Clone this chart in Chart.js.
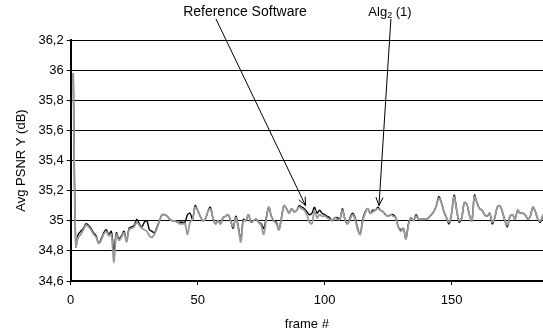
<!DOCTYPE html>
<html>
<head>
<meta charset="utf-8">
<script src="https://cdn.jsdelivr.net/npm/chart.js@4"></script>
<style>
  html, body { margin: 0; padding: 0; background: #fff; }
  #wrap { width: 543px; height: 332px; }
</style>
</head>
<body>
<div id="wrap"><canvas id="myChart" width="543" height="332"></canvas></div>
<script>
// values (frames 1..186)
const referenceSoftware = [
  35.98, 34.83, 34.91, 34.93, 34.95, 34.98, 34.97, 34.95, 34.92, 34.90,
  34.85, 34.88, 34.92, 34.94, 34.91, 34.93, 34.80, 34.92, 34.88, 34.90,
  34.93, 34.87, 34.95, 34.96, 34.97, 35.01, 34.98, 34.96, 34.99, 35.00,
  34.94, 34.93, 34.92, 34.96, 35.00, 35.04, 35.04, 35.03, 35.01, 35.00,
  35.00, 34.99, 34.99, 34.99, 34.99, 35.04, 35.05, 35.01, 35.10, 35.07,
  35.03, 35.00, 35.01, 35.06, 35.09, 35.02, 34.98, 35.00, 34.98, 35.02,
  35.03, 35.04, 35.00, 34.95, 35.03, 34.96, 34.88, 35.01, 35.00, 35.04,
  34.99, 35.00, 35.01, 34.99, 34.98, 34.95, 35.02, 35.09, 35.03, 35.00,
  34.99, 34.94, 35.02, 35.10, 35.08, 35.05, 35.08, 35.06, 35.07, 35.10,
  35.09, 35.08, 35.06, 35.04, 35.05, 35.09, 35.05, 35.07, 35.05, 35.04,
  35.03, 35.02, 35.00, 35.02, 35.02, 35.01, 35.08, 35.01, 34.98, 35.02,
  35.05, 35.02, 34.95, 34.91, 35.01, 35.06, 35.08, 35.05, 35.07, 35.07,
  35.09, 35.07, 35.06, 35.04, 35.03, 35.04, 35.04, 35.02, 34.96, 34.94,
  34.95, 34.88, 34.98, 35.02, 35.00, 35.04, 35.01, 35.01, 35.01, 35.01,
  35.02, 35.04, 35.06, 35.10, 35.16, 35.12, 35.06, 35.02, 34.98, 35.05,
  35.17, 35.07, 34.99, 35.02, 35.12, 35.11, 35.04, 35.00, 35.17, 35.12,
  35.08, 35.07, 35.04, 35.03, 35.05, 34.98, 35.02, 35.09, 35.10, 35.06,
  35.00, 34.96, 35.03, 35.04, 35.01, 35.07, 35.05, 35.05, 35.04, 35.01,
  35.03, 35.09, 35.06, 35.01, 34.99, 35.04
];

const alg2 = [
  35.98, 34.83, 34.89, 34.91, 34.94, 34.97, 34.96, 34.94, 34.91, 34.89,
  34.85, 34.87, 34.91, 34.93, 34.90, 34.91, 34.72, 34.91, 34.87, 34.89,
  34.92, 34.86, 34.94, 34.95, 34.96, 34.99, 34.97, 34.95, 34.94, 34.93,
  34.90, 34.89, 34.91, 34.95, 35.00, 35.04, 35.04, 35.03, 35.01, 35.00,
  35.00, 34.99, 34.98, 34.98, 34.98, 34.91, 34.99, 35.01, 35.09, 35.07,
  35.03, 35.00, 35.01, 35.06, 35.08, 35.02, 34.98, 35.00, 34.98, 35.02,
  35.03, 35.04, 35.00, 34.96, 35.02, 34.95, 34.86, 35.00, 35.00, 35.04,
  34.99, 35.00, 35.01, 34.99, 34.97, 34.91, 35.01, 35.09, 35.03, 35.00,
  34.98, 34.94, 35.02, 35.10, 35.08, 35.05, 35.08, 35.06, 35.07, 35.09,
  35.08, 35.07, 35.04, 34.99, 34.98, 35.07, 35.02, 35.04, 35.03, 35.03,
  35.02, 35.01, 35.00, 35.02, 35.01, 35.01, 35.07, 35.01, 34.98, 35.01,
  35.04, 35.01, 34.94, 34.91, 35.00, 35.05, 35.08, 35.05, 35.06, 35.07,
  35.08, 35.07, 35.06, 35.04, 35.03, 35.04, 35.03, 35.02, 34.96, 34.93,
  34.95, 34.88, 34.97, 35.02, 35.00, 35.03, 35.01, 35.01, 35.01, 35.01,
  35.02, 35.04, 35.06, 35.10, 35.15, 35.12, 35.06, 35.02, 34.99, 35.05,
  35.16, 35.07, 35.00, 35.02, 35.12, 35.11, 35.04, 35.00, 35.16, 35.12,
  35.08, 35.07, 35.04, 35.03, 35.05, 34.99, 35.02, 35.09, 35.10, 35.06,
  35.00, 34.97, 35.03, 35.04, 35.01, 35.07, 35.05, 35.05, 35.04, 35.01,
  35.03, 35.09, 35.06, 35.01, 35.00, 35.04
];

const xTicks = [0, 50, 100, 150];
const yTicks = [34.6, 34.8, 35, 35.2, 35.4, 35.6, 35.8, 36, 36.2];

// callouts: label, tail (frame, dB), head (frame, dB)
const callouts = [
  { text: 'Reference Software', from: [57.2, 36.34], to: [92.5, 35.10], labelX: 245 },
  { text: 'Alg', sub: '2', rest: ' (1)', from: [126.1, 36.34], to: [121.4, 35.10], labelX: 390 }
];

const FONT = 'Liberation Sans, Arial, sans-serif';

function toPoints(values) {
  return values.map((v, i) => ({ x: i + 1, y: v }));
}

function commaLabel(v) {
  return String(+v.toFixed(1)).replace('.', ',');
}

const calloutPlugin = {
  id: 'callouts',
  afterDatasetsDraw(chart) {
    const ctx = chart.ctx;
    const xs = chart.scales.x;
    const ys = chart.scales.y;
    ctx.save();
    ctx.strokeStyle = '#000';
    ctx.fillStyle = '#000';
    ctx.lineWidth = 1;
    callouts.forEach((c) => {
      const x1 = xs.getPixelForValue(c.from[0]);
      const y1 = ys.getPixelForValue(c.from[1]);
      const x2 = xs.getPixelForValue(c.to[0]);
      const y2 = ys.getPixelForValue(c.to[1]);
      ctx.beginPath();
      ctx.moveTo(x1, y1);
      ctx.lineTo(x2, y2);
      ctx.stroke();
      // arrow head
      const ang = Math.atan2(y2 - y1, x2 - x1);
      const len = 9;
      ctx.beginPath();
      ctx.moveTo(x2 - len * Math.cos(ang - 0.4), y2 - len * Math.sin(ang - 0.4));
      ctx.lineTo(x2, y2);
      ctx.lineTo(x2 - len * Math.cos(ang + 0.4), y2 - len * Math.sin(ang + 0.4));
      ctx.stroke();

      // label
      ctx.textBaseline = 'middle';
      if (!c.sub) {
        ctx.font = '14px ' + FONT;
        ctx.textAlign = 'center';
        ctx.fillText(c.text, c.labelX, 12);
      } else {
        ctx.textAlign = 'left';
        ctx.font = '13px ' + FONT;
        const w1 = ctx.measureText(c.text).width;
        ctx.font = '9px ' + FONT;
        const w2 = ctx.measureText(c.sub).width;
        ctx.font = '13px ' + FONT;
        const w3 = ctx.measureText(c.rest).width;
        let x = c.labelX - (w1 + w2 + w3) / 2;
        ctx.fillText(c.text, x, 12);
        x += w1;
        ctx.font = '9px ' + FONT;
        ctx.fillText(c.sub, x, 16);
        x += w2;
        ctx.font = '13px ' + FONT;
        ctx.fillText(c.rest, x, 12);
      }
    });
    ctx.restore();
  }
};

function plotChart() {
  const ctx = document.getElementById('myChart').getContext('2d');
  return new Chart(ctx, {
    type: 'line',
    data: {
      datasets: [{
        label: 'Alg2 (1)',
        data: toPoints(alg2),
        borderColor: '#9a9a9a',
        borderWidth: 1.8,
        pointRadius: 0,
        tension: 0.35
      }, {
        label: 'Reference Software',
        data: toPoints(referenceSoftware),
        borderColor: '#000',
        borderWidth: 1.4,
        pointRadius: 0,
        tension: 0.35
      }]
    },
    options: {
      responsive: false,
      animation: false,
      layout: { padding: { top: 40, right: 0, bottom: 0, left: 0 } },
      plugins: {
        legend: { display: false },
        tooltip: { enabled: false }
      },
      scales: {
        x: {
          type: 'linear',
          min: 0,
          max: 186,
          afterBuildTicks: (s) => { s.ticks = xTicks.map((v) => ({ value: v })); },
          afterFit: (s) => { s.height = 51; },
          grid: { drawOnChartArea: false, drawTicks: true, tickLength: 4, color: '#000' },
          border: { color: '#000', width: 1.5 },
          ticks: { color: '#000', font: { family: FONT, size: 13 }, padding: 8, maxRotation: 0 },
          title: { display: true, text: 'frame #', color: '#000', font: { family: FONT, size: 13 }, padding: { top: 0, bottom: 0 } }
        },
        y: {
          min: 34.6,
          max: 36.2,
          afterBuildTicks: (s) => { s.ticks = yTicks.map((v) => ({ value: v })); },
          afterFit: (s) => { s.width = 70.7; },
          grid: { color: '#000', lineWidth: 1, drawTicks: true, tickLength: 4 },
          border: { color: '#000', width: 2 },
          ticks: {
            color: '#000',
            font: { family: FONT, size: 13 },
            padding: 3,
            callback: (v) => commaLabel(v)
          },
          title: { display: true, text: 'Avg PSNR Y (dB)', color: '#000', font: { family: FONT, size: 13 }, padding: { top: 14, bottom: 0 } }
        }
      }
    },
    plugins: [calloutPlugin]
  });
}

document.addEventListener('DOMContentLoaded', () => plotChart());
</script>
</body>
</html>
